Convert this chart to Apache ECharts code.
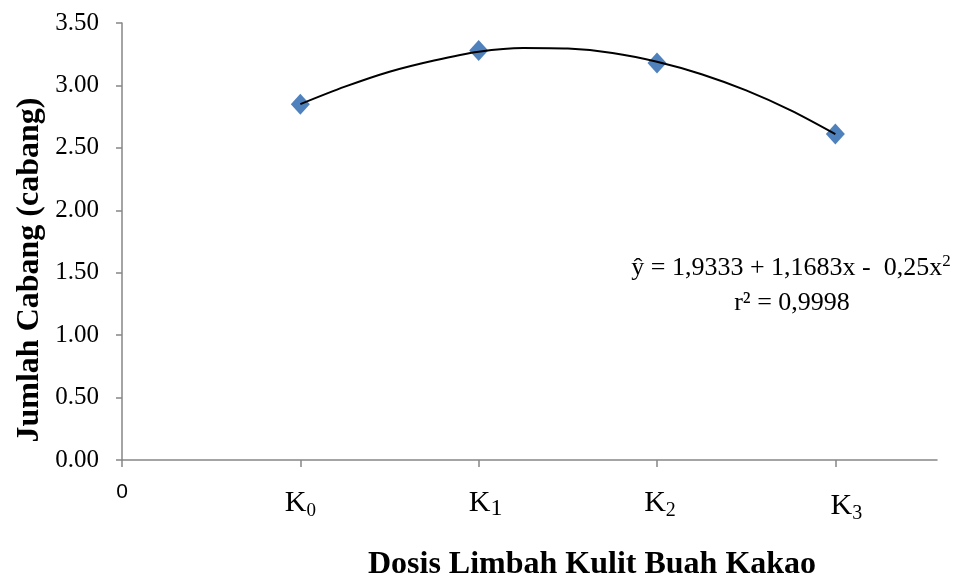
<!DOCTYPE html>
<html>
<head>
<meta charset="utf-8">
<script src="https://cdn.jsdelivr.net/npm/echarts@6/dist/echarts.min.js"></script>
<style>html,body{margin:0;padding:0;background:#fff}#c{width:960px;height:581px}</style>
</head>
<body>
<div id="c"></div>
<script>
// Observed means per dose level (x position 1..4 = K0..K3)
const categories = ['K0', 'K1', 'K2', 'K3'];
const xPositions = [1, 2, 3, 4];
const observed = [2.85, 3.28, 3.18, 2.61];
// Trendline points
const trendX = [1, 1.25, 1.5, 1.75, 2, 2.25, 2.5, 2.75, 3, 3.25, 3.5, 3.75, 4];
const trendY = [2.85, 2.99, 3.11, 3.20, 3.27, 3.30, 3.295, 3.26, 3.19, 3.09, 2.96, 2.80, 2.61];
const yTicks = [0, 0.5, 1, 1.5, 2, 2.5, 3, 3.5];
const xTickValues = [0, 1, 2, 3, 4];
const equationText = 'ŷ = 1,9333 + 1,1683x -  0,25x';
const r2Text = 'r² = 0,9998';
const xTitle = 'Dosis Limbah Kulit Buah Kakao';
const yTitle = 'Jumlah Cabang (cabang)';

const serif = '"Liberation Serif", "Times New Roman", serif';
const axisGray = '#868686';

const chart = echarts.init(document.getElementById('c'), null, {renderer: 'canvas'});

const rich = {
  zero: {fontFamily: '"Liberation Sans", Arial, sans-serif', fontSize: 21, lineHeight: 13, color: '#000'}
};
const subSize = [19, 24, 20, 20];
const shiftX = [0, 14, 6, 22];
const shiftY = [0, 0, 0, 6];
for (let i = 0; i < 4; i++) {
  rich['k' + i] = {fontFamily: serif, fontSize: 30, lineHeight: 34, color: '#000',
    padding: [shiftY[i], 0, 0, shiftX[i]]};
  rich['s' + i] = {fontFamily: serif, fontSize: subSize[i], lineHeight: subSize[i], color: '#000',
    padding: [34 - subSize[i] + 2 + shiftY[i], 0, 0, 0]};
}

chart.setOption({
  backgroundColor: '#fff',
  animation: false,
  grid: {left: 122, right: 23, top: 23, bottom: 121, containLabel: false},
  xAxis: {
    type: 'value', min: 0, max: 4.57, interval: 1,
    splitLine: {show: false},
    axisLine: {show: true, lineStyle: {color: axisGray, width: 1.5}},
    axisTick: {show: true, length: 7, customValues: xTickValues, lineStyle: {color: axisGray, width: 1.5}},
    axisLabel: {
      customValues: xTickValues,
      margin: 26,
      verticalAlign: 'top',
      fontSize: 21,
      formatter: function (v) {
        if (v === 0) return '{zero|0}';
        const i = Math.round(v) - 1;
        if (i < 0 || i > 3) return '';
        return '{k' + i + '|K}{s' + i + '|' + categories[i].slice(1) + '}';
      },
      rich: rich
    }
  },
  yAxis: {
    type: 'value', min: 0, max: 3.5, interval: 0.5,
    splitLine: {show: false},
    axisLine: {show: true, lineStyle: {color: axisGray, width: 1.5}},
    axisTick: {show: true, length: 6, lineStyle: {color: axisGray, width: 1.5}},
    axisLabel: {
      margin: 23,
      fontFamily: serif, fontSize: 25, color: '#000',
      formatter: function (v) { return v.toFixed(2); }
    }
  },
  graphic: [
    {type: 'text', x: 30, y: 270, rotation: Math.PI / 2,
      style: {text: yTitle, fontFamily: serif, fontWeight: 'bold', fontSize: 32, fill: '#000',
        align: 'center', verticalAlign: 'middle'}},
    {type: 'text', x: 592, y: 565,
      style: {text: xTitle, fontFamily: serif, fontWeight: 'bold', fontSize: 32, fill: '#000',
        align: 'center', verticalAlign: 'middle'}},
    {type: 'text', x: 791, y: 268,
      style: {text: '{m|' + equationText + '}{p|2}', align: 'center', verticalAlign: 'middle',
        rich: {
          m: {fontFamily: serif, fontSize: 26, fill: '#000', color: '#000', lineHeight: 30},
          p: {fontFamily: serif, fontSize: 17, fill: '#000', color: '#000', lineHeight: 17, padding: [0, 0, 12, 0]}
        }}},
    {type: 'text', x: 792, y: 303,
      style: {text: r2Text, fontFamily: serif, fontSize: 26, fill: '#000',
        align: 'center', verticalAlign: 'middle'}}
  ],
  series: [
    {
      type: 'scatter', name: 'observed',
      data: xPositions.map((x, i) => [x, observed[i]]),
      symbol: 'diamond', symbolSize: [19, 21],
      itemStyle: {color: '#4F81BD', opacity: 1},
      z: 2
    },
    {
      type: 'line', name: 'trend',
      data: trendX.map((x, i) => [x, trendY[i]]),
      smooth: 0.3, showSymbol: false, symbol: 'none',
      lineStyle: {color: '#000', width: 2},
      z: 3
    }
  ]
});
</script>
</body>
</html>
